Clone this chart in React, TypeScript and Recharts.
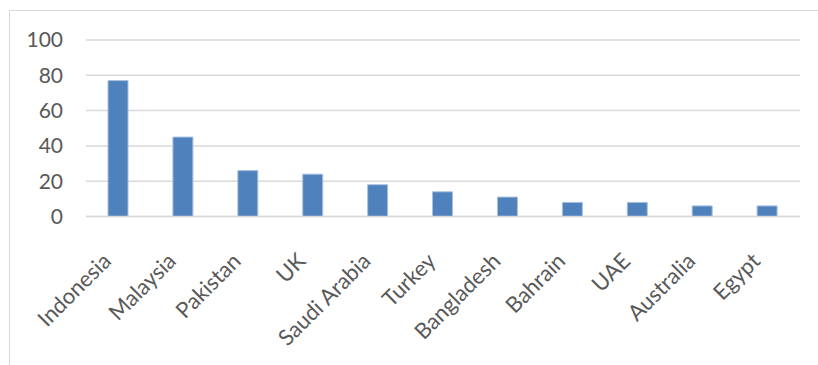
import { Bar, BarChart, CartesianGrid, XAxis, YAxis } from "recharts";

const countries = [
  "Indonesia",
  "Malaysia",
  "Pakistan",
  "UK",
  "Saudi Arabia",
  "Turkey",
  "Bangladesh",
  "Bahrain",
  "UAE",
  "Australia",
  "Egypt",
];
const counts = [77, 45, 26, 24, 18, 14, 11, 8, 8, 6, 6];
const yTicks = [0, 20, 40, 60, 80, 100];

const data = countries.map((name, i) => ({ name, value: counts[i] }));

const FONT = "Lato, 'Open Sans', sans-serif";
const TEXT = "#595959";
const GRID = "#d9d9d9";
const BAR_FILL = "#4f81bd";

// rotated category label, end of the text sits just below/left of the tick
function CountryTick(props: any) {
  const { x, y, payload } = props;
  const tx = x - 6;
  const ty = y + 46;
  return (
    <text
      x={tx}
      y={ty}
      transform={`rotate(-45, ${tx}, ${ty})`}
      textAnchor="end"
      fill={TEXT}
      fontSize={22}
      fontFamily={FONT}
    >
      {payload.value}
    </text>
  );
}

export default function App() {
  return (
    <div
      style={{
        position: "fixed",
        left: 0,
        top: 0,
        width: 818,
        height: 365,
        background: "#fff",
        overflow: "hidden",
      }}
    >
      <div
        style={{
          position: "absolute",
          left: 9,
          top: 10,
          width: 830,
          height: 380,
          borderTop: `1px solid ${GRID}`,
          borderLeft: `1px solid ${GRID}`,
        }}
      />
      <div style={{ position: "absolute", left: 0, top: 0 }}>
        <BarChart
          width={818}
          height={365}
          data={data}
          margin={{ top: 40, right: 18, bottom: 0, left: 10 }}
          barCategoryGap={0}
        >
          <CartesianGrid vertical={false} stroke={GRID} strokeWidth={1.5} />
          <XAxis
            dataKey="name"
            height={148.5}
            interval={0}
            tickSize={0}
            tickMargin={0}
            axisLine={{ stroke: GRID, strokeWidth: 1.5 }}
            tickLine={false}
            tick={<CountryTick />}
          />
          <YAxis
            width={76}
            domain={[0, 100]}
            ticks={yTicks}
            interval={0}
            axisLine={false}
            tickLine={false}
            tickSize={0}
            tickMargin={23}
            tick={{ fill: TEXT, fontSize: 21, fontFamily: FONT }}
          />
          <Bar
            dataKey="value"
            fill={BAR_FILL}
            stroke="#a9c0e0"
            strokeWidth={1}
            barSize={20}
            isAnimationActive={false}
          />
        </BarChart>
      </div>
    </div>
  );
}
